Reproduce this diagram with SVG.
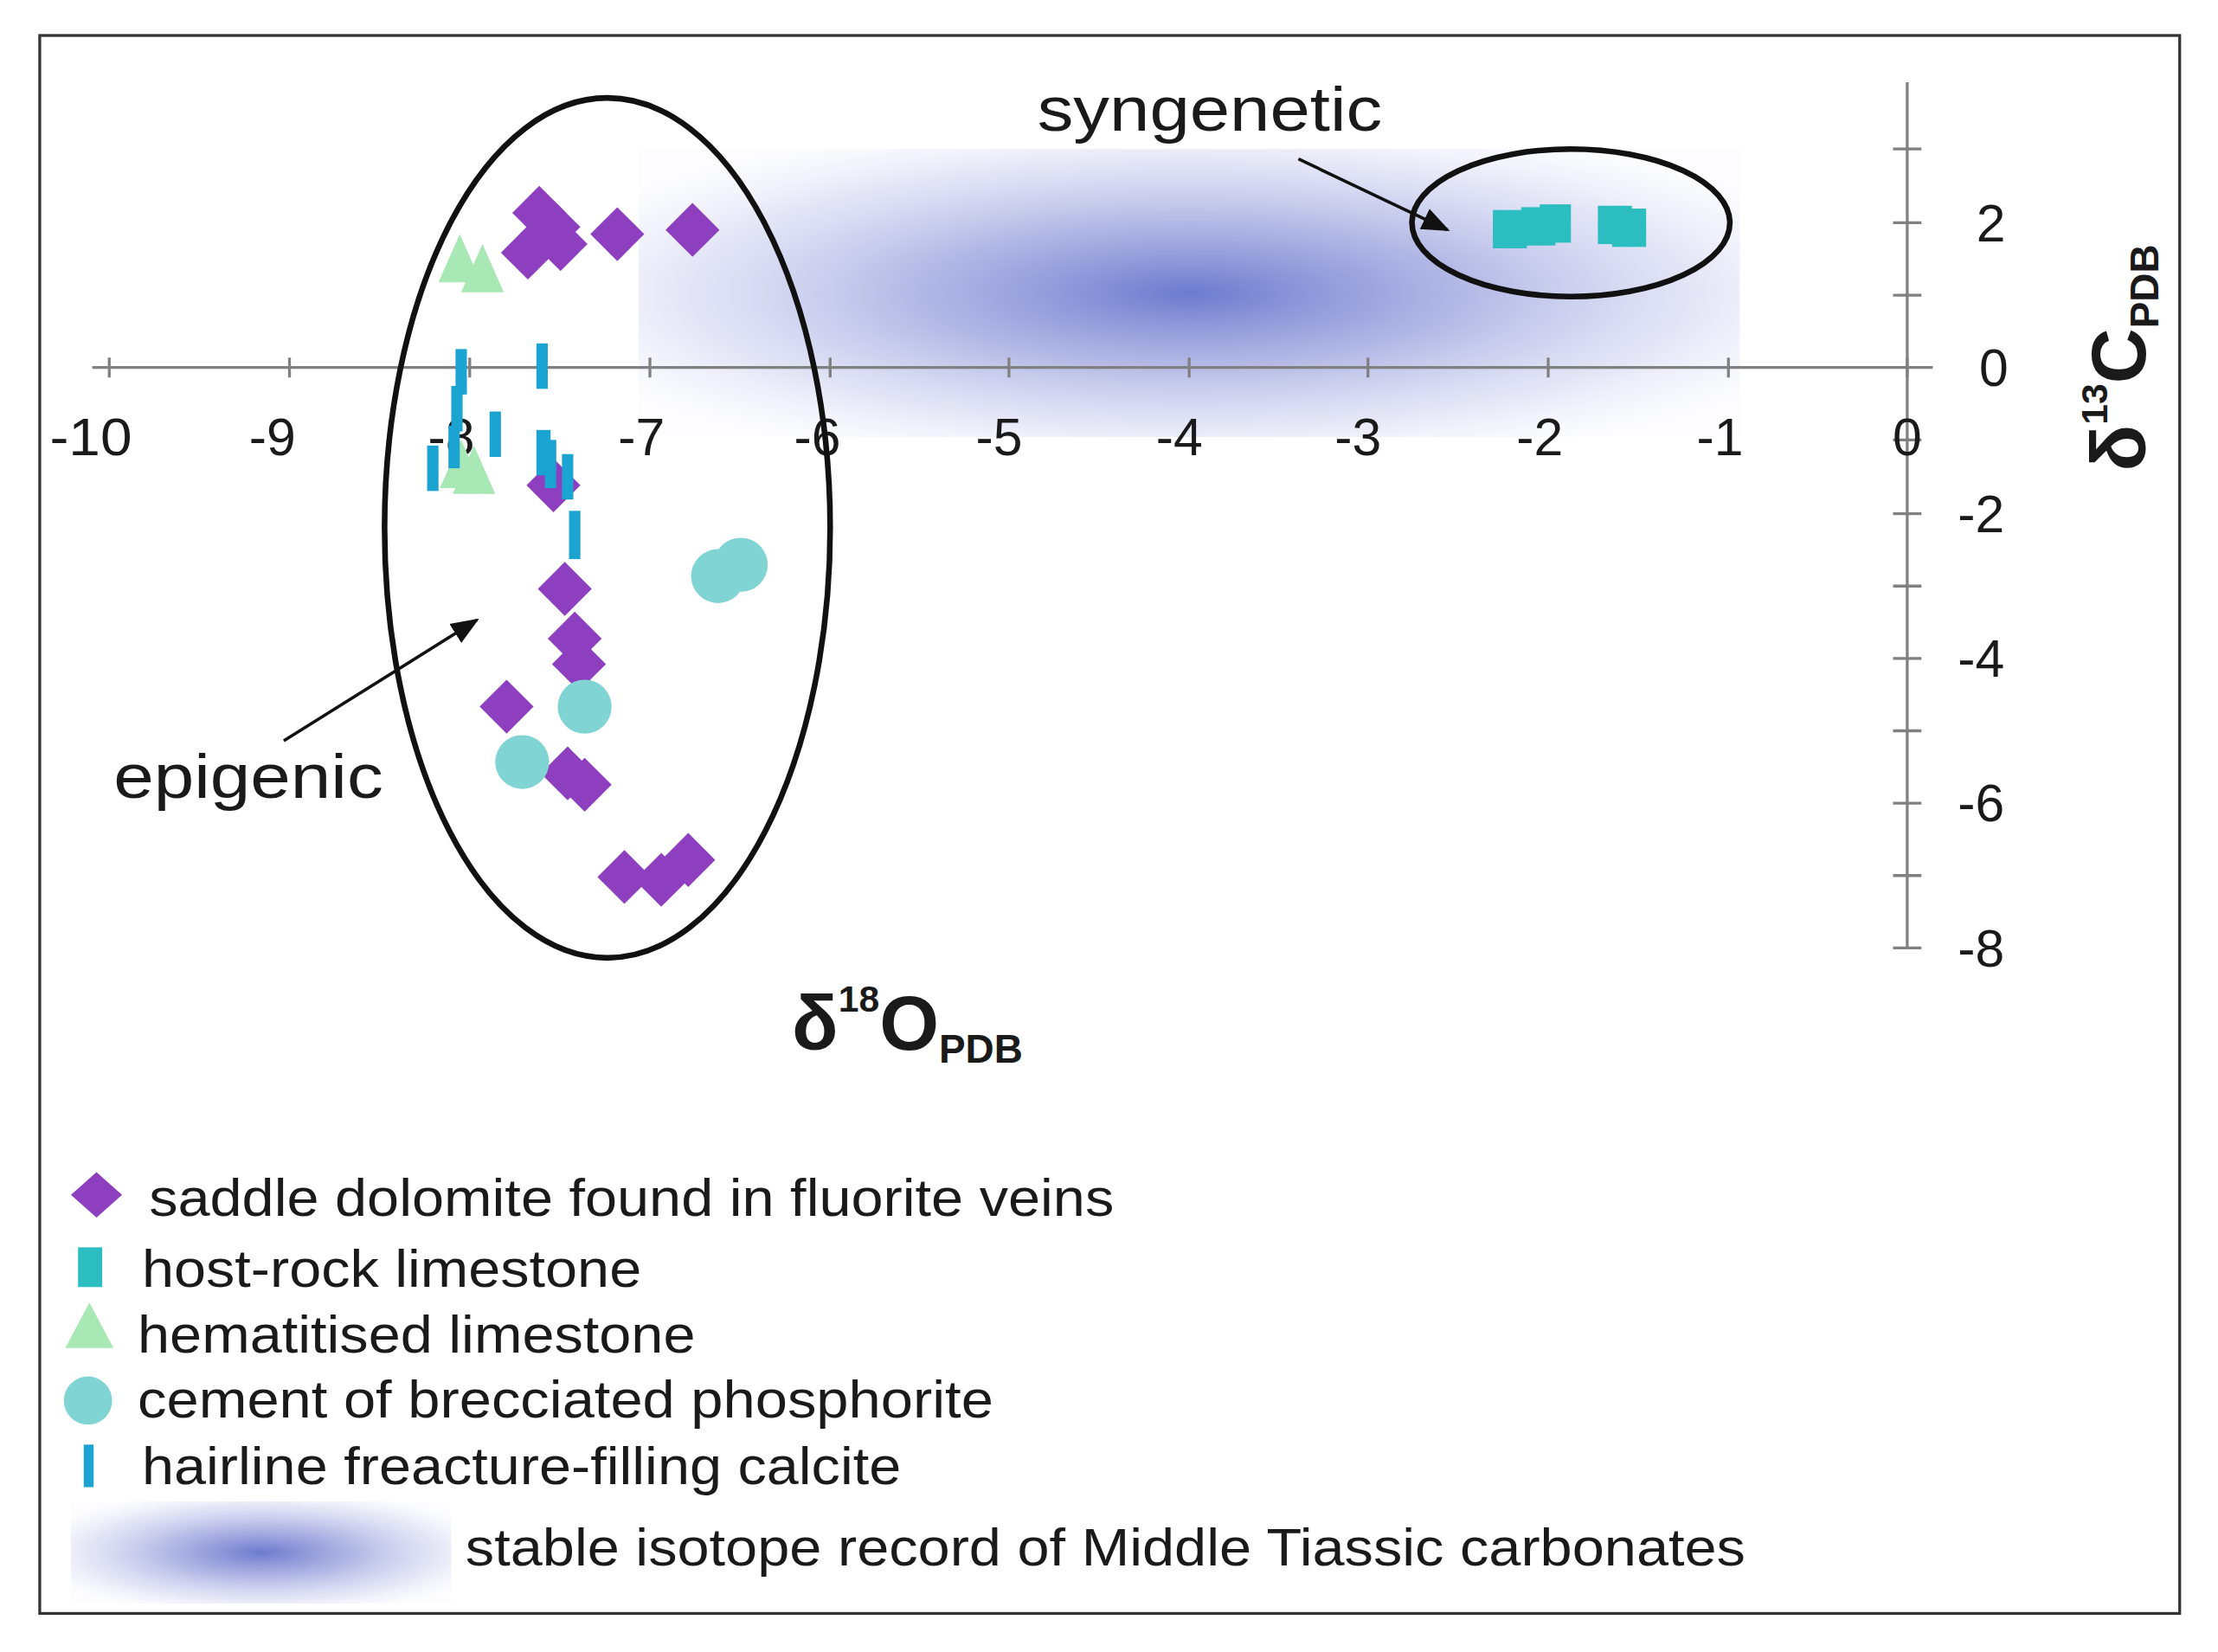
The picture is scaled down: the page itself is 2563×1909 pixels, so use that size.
<svg xmlns="http://www.w3.org/2000/svg" width="2563" height="1909" viewBox="0 0 2563 1909">
<defs>
<radialGradient id="cloud" cx="0.5" cy="0.5" r="0.62">
<stop offset="0" stop-color="#6673cc" stop-opacity="0.95"/>
<stop offset="0.4" stop-color="#8089d4" stop-opacity="0.6"/>
<stop offset="0.75" stop-color="#a8aee4" stop-opacity="0.3"/>
<stop offset="1" stop-color="#d0d4f2" stop-opacity="0.05"/>
</radialGradient>
<marker id="ah" viewBox="0 0 10 10" refX="9" refY="5" markerWidth="9" markerHeight="9" orient="auto" markerUnits="strokeWidth">
<path d="M0,1 L10,5 L0,9 z" fill="#111"/>
</marker>
<path id="dia" d="M0,-19 L19,0 L0,19 L-19,0 z"/>
<path id="tri" d="M0,-20 L15,14 L-15,14 z"/>
</defs>
<style>
text{font-family:"Liberation Sans",Arial,sans-serif;fill:#1a1a1a}
.ax{stroke:#808080;stroke-width:2;fill:none}
.tl{font-size:37px;text-anchor:middle}
.lg{font-size:37px}
.d{fill:#8e3fbf}
.t{fill:#a8e8b4}
.c{fill:#80d4d4}
.b{fill:#1ba3d2}
.s{fill:#2bbdc0}
.ell{fill:none;stroke:#111;stroke-width:4}
</style>
<rect width="2563" height="1909" fill="#fff"/>
<g transform="scale(1.6398)">
<rect id="frame" x="28" y="25" width="1508" height="1112" fill="none" stroke="#333" stroke-width="2"/>
<rect id="cloud-area" x="450" y="105" width="776" height="203" fill="url(#cloud)"/>
<g id="axes">
<line class="ax" x1="65" y1="259" x2="1362" y2="259"/>
<line class="ax" x1="1344" y1="58" x2="1344" y2="668"/>
<path class="ax" d="M77,252V266M204,252V266M331,252V266M458,252V266M585,252V266M711,252V266M838,252V266M964,252V266M1091,252V266M1218,252V266M1344,252V266"/>
<path class="ax" d="M1334,105H1354M1334,157H1354M1334,208H1354M1334,310H1354M1334,362H1354M1334,413H1354M1334,464H1354M1334,515H1354M1334,566H1354M1334,617H1354M1334,668H1354"/>
<g class="tl">
<text x="64" y="321" textLength="58" lengthAdjust="spacingAndGlyphs">-10</text><text x="192" y="321">-9</text><text x="318" y="321">-8</text><text x="452" y="321">-7</text><text x="576" y="321">-6</text><text x="704" y="321">-5</text><text x="831" y="321">-4</text><text x="957" y="321">-3</text><text x="1085" y="321">-2</text><text x="1212" y="321">-1</text><text x="1344" y="321">0</text>
</g>
<g class="tl">
<text x="1403" y="170">2</text><text x="1405" y="272">0</text><text x="1396" y="375">-2</text><text x="1396" y="477">-4</text><text x="1396" y="579">-6</text><text x="1396" y="681">-8</text>
</g>
<text x="558" y="740" font-size="54" font-weight="bold">δ<tspan font-size="26" dy="-27">18</tspan><tspan dy="27">O</tspan><tspan font-size="28" dy="9">PDB</tspan></text>
<text transform="translate(1512,332) rotate(-90)" font-size="54" font-weight="bold">δ<tspan font-size="26" dy="-27">13</tspan><tspan dy="27">C</tspan><tspan font-size="28" dy="9">PDB</tspan></text>
</g>
<g id="data">
<use href="#dia" class="d" x="380" y="150"/><use href="#dia" class="d" x="390" y="160"/><use href="#dia" class="d" x="372" y="178"/><use href="#dia" class="d" x="395" y="172"/><use href="#dia" class="d" x="435" y="165"/><use href="#dia" class="d" x="488" y="162"/>
<use href="#dia" class="d" x="390" y="342"/><use href="#dia" class="d" x="398" y="415"/><use href="#dia" class="d" x="405" y="450"/><use href="#dia" class="d" x="408" y="468"/><use href="#dia" class="d" x="357" y="498"/><use href="#dia" class="d" x="400" y="545"/><use href="#dia" class="d" x="412" y="553"/><use href="#dia" class="d" x="440" y="618"/><use href="#dia" class="d" x="466" y="620"/><use href="#dia" class="d" x="485" y="606"/>
<use href="#tri" class="t" x="324" y="185"/><use href="#tri" class="t" x="340" y="192"/><use href="#tri" class="t" x="325" y="330"/><use href="#tri" class="t" x="334" y="334"/>
<circle class="c" cx="506" cy="406" r="19"/><circle class="c" cx="522" cy="398" r="19"/><circle class="c" cx="412" cy="498" r="19"/><circle class="c" cx="368" cy="537" r="19"/>
<rect class="b" x="321" y="246" width="8" height="32"/><rect class="b" x="318" y="272" width="8" height="32"/><rect class="b" x="316" y="300" width="8" height="30"/><rect class="b" x="301" y="314" width="8" height="32"/><rect class="b" x="345" y="290" width="8" height="32"/><rect class="b" x="378" y="242" width="8" height="32"/><rect class="b" x="378" y="303" width="10" height="32"/><rect class="b" x="384" y="310" width="8" height="34"/><rect class="b" x="396" y="320" width="8" height="32"/><rect class="b" x="401" y="360" width="8" height="34"/>
<rect class="s" x="1052" y="148" width="24" height="27"/><rect class="s" x="1072" y="146" width="24" height="27"/><rect class="s" x="1085" y="144" width="22" height="27"/><rect class="s" x="1126" y="145" width="24" height="27"/><rect class="s" x="1136" y="147" width="24" height="27"/>
</g>
<g id="epigenic">
<ellipse class="ell" cx="428" cy="372" rx="157" ry="303"/>
<text x="80" y="562" font-size="44" textLength="190" lengthAdjust="spacingAndGlyphs">epigenic</text>
</g>
<g id="syngenetic">
<ellipse class="ell" cx="1107" cy="157" rx="112" ry="52"/>
<text x="731" y="92" font-size="44" textLength="243" lengthAdjust="spacingAndGlyphs">syngenetic</text>
</g>
<g id="connectors" stroke="#111" stroke-width="2.2" fill="none">
<line x1="915" y1="112" x2="1020" y2="162" marker-end="url(#ah)"/>
<line x1="200" y1="522" x2="336" y2="437" marker-end="url(#ah)"/>
</g>
<g id="legend">
<path class="d" d="M68,826 L86,842 L68,858 L50,842 z"/>
<text class="lg" x="105" y="857" textLength="680" lengthAdjust="spacingAndGlyphs">saddle dolomite found in fluorite veins</text>
<rect class="s" x="55" y="879" width="17" height="28"/>
<text class="lg" x="100" y="907" textLength="352" lengthAdjust="spacingAndGlyphs">host-rock limestone</text>
<path class="t" d="M63,918 L80,950 L46,950 z"/>
<text class="lg" x="97" y="953" textLength="393" lengthAdjust="spacingAndGlyphs">hematitised limestone</text>
<circle class="c" cx="62" cy="987" r="17"/>
<text class="lg" x="97" y="999" textLength="603" lengthAdjust="spacingAndGlyphs">cement of brecciated phosphorite</text>
<rect class="b" x="59" y="1018" width="7" height="30"/>
<text class="lg" x="100" y="1046" textLength="535" lengthAdjust="spacingAndGlyphs">hairline freacture-filling calcite</text>
<rect x="50" y="1058" width="268" height="72" fill="url(#cloud)"/>
<text class="lg" x="328" y="1103" textLength="902" lengthAdjust="spacingAndGlyphs">stable isotope record of Middle Tiassic carbonates</text>
</g>
</g>
</svg>
